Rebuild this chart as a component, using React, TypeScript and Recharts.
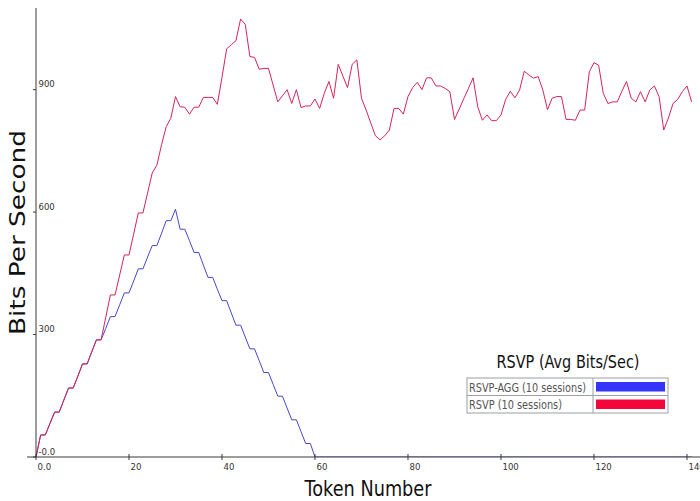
import React from 'react';
import { LineChart, Line, XAxis, YAxis, Legend, Label } from 'recharts';

// token index along the x axis
const tokens = Array.from({ length: 142 }, (_, i) => i);

const rsvpAgg = [
  0, 54, 54, 82, 110, 110, 140, 169, 169, 198, 228, 228, 258, 287, 287, 315, 344, 344, 373, 402,
  402, 431, 461, 461, 490, 518, 518, 548, 579, 579, 607, 558, 558, 530, 501, 501, 470, 440, 440, 411,
  383, 383, 353, 323, 323, 294, 265, 265, 236, 207, 207, 178, 149, 149, 120, 91, 91, 62, 33, 33,
  0, 0, 0, 0, 0, 0, 0, 0, 0, 0, 0, 0, 0, 0, 0, 0, 0, 0, 0, 0,
  0, 0, 0, 0, 0, 0, 0, 0, 0, 0, 0, 0, 0, 0, 0, 0, 0, 0, 0, 0,
  0, 0, 0, 0, 0, 0, 0, 0, 0, 0, 0, 0, 0, 0, 0, 0, 0, 0, 0, 0,
  0, 0, 0, 0, 0, 0, 0, 0, 0, 0, 0, 0, 0, 0, 0, 0, 0, 0, 0, 0,
  0, 0,
];

const rsvp = [
  0, 54, 54, 82, 110, 110, 140, 169, 169, 198, 228, 228, 258, 287, 287, 342, 397, 397, 446, 495,
  495, 546, 598, 598, 647, 696, 715, 765, 809, 830, 883, 858, 857, 840, 857, 857, 881, 881, 881, 864,
  930, 1000, 1010, 1020, 1073, 1060, 981, 979, 950, 952, 952, 911, 870, 885, 900, 866, 900, 856, 860, 860,
  877, 854, 891, 920, 879, 962, 933, 905, 962, 973, 879, 850, 818, 787, 777, 787, 801, 854, 854, 840,
  883, 905, 918, 900, 929, 929, 909, 909, 903, 895, 827, 852, 878, 903, 929, 858, 825, 838, 824, 824,
  838, 876, 896, 880, 899, 945, 936, 928, 932, 899, 851, 879, 883, 883, 827, 827, 825, 850, 850, 944,
  966, 960, 891, 866, 870, 870, 896, 920, 879, 870, 895, 870, 899, 909, 883, 801, 830, 866, 876, 895,
  909, 870,
];

const xTicks = [0, 20, 40, 60, 80, 100, 120, 140];
const xTickLabels = ['0.0', '20', '40', '60', '80', '100', '120', '140'];
const yTicks = [0, 300, 600, 900];
const yTickLabels = ['-0.0', '300', '600', '900'];

const legendTitle = 'RSVP (Avg Bits/Sec)';
const seriesNames = ['RSVP-AGG (10 sessions)', 'RSVP (10 sessions)'];
const nameWidths = [117, 93];
const lineColors = ['#4646cc', '#d4245a'];
const swatchColors = ['#3434fa', '#f5063a'];

const data = tokens.map((t, i) => ({ token: t, agg: rsvpAgg[i], rsvp: rsvp[i] }));

const axisColor = '#3a3a3a';
const tickFont = 'DejaVu Sans Condensed, DejaVu Sans, sans-serif';

const XTick = (props: any) => {
  const { x, y, index } = props;
  return (
    <g>
      {index === 0 && <line x1={x - 9} y1={y} x2={x} y2={y} stroke={axisColor} />}
      <line x1={x} y1={y - 3} x2={x} y2={y + 3} stroke={axisColor} />
      <text x={x + 1.5} y={y + 13} fontSize={9.5} fontFamily={tickFont} fill="#333">
        {xTickLabels[index]}
      </text>
    </g>
  );
};

const YTick = (props: any) => {
  const { x, y, index } = props;
  return (
    <g>
      <line x1={x - 3} y1={y} x2={x} y2={y} stroke={axisColor} />
      <text x={x + 2.5} y={y - 2.5} fontSize={9.5} fontFamily={tickFont} fill="#333">
        {yTickLabels[index]}
      </text>
    </g>
  );
};

const XTitle = (props: any) => {
  const { viewBox } = props;
  return (
    <text
      x={viewBox.x + viewBox.width / 2}
      y={viewBox.y + 39}
      textAnchor="middle"
      fontSize={21}
      fontFamily="DejaVu Sans, sans-serif"
      textLength={127}
      lengthAdjust="spacingAndGlyphs"
      fill="#111"
    >
      Token Number
    </text>
  );
};

const YTitle = (props: any) => {
  const { viewBox } = props;
  const cx = 18;
  const cy = viewBox.y + viewBox.height / 2;
  return (
    <text
      x={cx}
      y={cy}
      transform={`rotate(-90 ${cx} ${cy})`}
      textAnchor="middle"
      dominantBaseline="central"
      fontSize={21}
      fontFamily="DejaVu Sans, sans-serif"
      textLength={205}
      lengthAdjust="spacingAndGlyphs"
      fill="#111"
    >
      Bits Per Second
    </text>
  );
};

const LegendBox = () => {
  const left = 467;
  const top = 378;
  const w = 201;
  const rowH = 17.5;
  const split = 126;
  return (
    <svg width={700} height={501} style={{ position: 'absolute', left: 0, top: 0 }}>
      <text
        x={568}
        y={368}
        textAnchor="middle"
        fontSize={17}
        fontFamily="DejaVu Sans, sans-serif"
        textLength={143}
        lengthAdjust="spacingAndGlyphs"
        fill="#111"
      >
        {legendTitle}
      </text>
      <rect x={left} y={top} width={w} height={rowH * 2} fill="#fff" stroke="#9aa0a4" />
      <line x1={left} y1={top + rowH} x2={left + w} y2={top + rowH} stroke="#9aa0a4" />
      <line x1={left + split} y1={top} x2={left + split} y2={top + rowH * 2} stroke="#9aa0a4" />
      {seriesNames.map((name, i) => (
        <g key={name}>
          <text
            x={left + 2}
            y={top + rowH * i + 13.5}
            fontSize={13}
            fontFamily={tickFont}
            textLength={nameWidths[i]}
            lengthAdjust="spacingAndGlyphs"
            fill="#555"
          >
            {name}
          </text>
          <rect
            x={left + split + 3}
            y={top + rowH * i + 4}
            width={w - split - 6}
            height={rowH - 8}
            fill={swatchColors[i]}
          />
        </g>
      ))}
    </svg>
  );
};

export default function App() {
  return (
    <div style={{ position: 'absolute', left: 0, top: 0, width: 700, height: 501, background: '#fff' }}>
      <LineChart width={700} height={501} data={data} margin={{ top: 8, right: 0, bottom: 0, left: 0 }}>
        <XAxis
          dataKey="token"
          type="number"
          domain={[0, 142.8]}
          ticks={xTicks}
          allowDataOverflow
          height={44}
          tickSize={0}
          tickMargin={0}
          tickLine={false}
          axisLine={{ stroke: axisColor }}
          tick={<XTick />}
          interval={0}
        >
          <Label content={<XTitle />} />
        </XAxis>
        <YAxis
          type="number"
          domain={[0, 1100]}
          ticks={yTicks}
          allowDataOverflow
          width={36}
          tickSize={0}
          tickMargin={0}
          tickLine={false}
          axisLine={{ stroke: axisColor }}
          tick={<YTick />}
          interval={0}
        >
          <Label content={<YTitle />} />
        </YAxis>
        <Line
          dataKey="agg"
          name={seriesNames[0]}
          stroke={lineColors[0]}
          strokeWidth={1}
          dot={false}
          activeDot={false}
          isAnimationActive={false}
        />
        <Line
          dataKey="rsvp"
          name={seriesNames[1]}
          stroke={lineColors[1]}
          strokeWidth={1}
          dot={false}
          activeDot={false}
          isAnimationActive={false}
        />
        <Legend
          layout="horizontal"
          verticalAlign="middle"
          content={<LegendBox />}
          wrapperStyle={{ position: 'absolute', left: 0, top: 0, width: 700, height: 501, pointerEvents: 'none' }}
        />
      </LineChart>
    </div>
  );
}
